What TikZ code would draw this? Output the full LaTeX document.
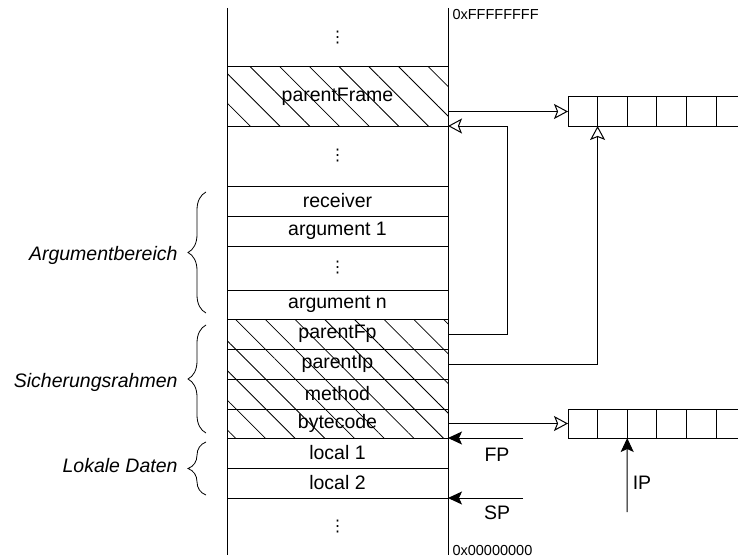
\documentclass[tikz,border=0pt]{standalone}
\usepackage{fontspec}
\setmainfont{Liberation Sans}
\newfontfamily\symfont{DejaVu Sans}
\usetikzlibrary{arrows.meta,positioning,patterns.meta,decorations.pathreplacing}
\tikzset{
  every picture/.style={line width=1pt},
  cell/.style={draw=black, minimum width=221pt, minimum height=#1, inner sep=0pt, outer sep=0pt, font=\fontsize{19.5}{23}\selectfont},
  cell/.default=30pt,
  gap/.style={cell=#1, draw=none, font=\fontsize{16}{18}\symfont},
  hatched/.style={cell=#1, pattern={Lines[angle=-45, distance=21pt, line width=0.8pt]}},
  bufcell/.style={draw=black, minimum width=29.6pt, minimum height=29pt, inner sep=0pt, outer sep=0pt},
  ptr/.style={-{Stealth[open, length=14pt, width=15pt, inset=3pt]}},
  reg/.style={-{Stealth[length=14pt, width=13pt, inset=3pt]}},
  lbl/.style={font=\fontsize{19.5}{23}\selectfont, inner sep=0pt},
  addr/.style={font=\fontsize{14.5}{17}\selectfont, inner sep=0pt, anchor=west},
  area/.style={inner sep=0pt, anchor=east, font=\fontsize{19.5}{23}\selectfont\itshape},
  curly/.style={decorate, decoration={brace, amplitude=18pt}, line width=0.8pt},
}

\begin{document}
\begin{tikzpicture}[x=1pt, y=-1pt]
  \path[use as bounding box, clip] (0,0) rectangle (738,559);
  % stack frame rows
  \foreach \name/\y/\h in {dtop/37.5/59, dmid/156/60, dargs/268/44, dbot/526.5/57}
    \node[gap=\h pt] (\name) at (337.5,\y) {⋮};
  \foreach \name/\y/\h/\label in {pframe/96.5/59/parentFrame, pfp/334/30/parentFp, pip/364/30/parentIp, meth/394/30/method, bcode/423.5/29/bytecode}
    \node[hatched=\h pt] (\name) at (337.5,\y) {\label};
  \foreach \name/\y/\h/\label in {recv/201/30/receiver, arg1/231/30/argument 1, argn/304.5/29/argument n, loc1/453/30/local 1, loc2/483/30/local 2}
    \node[cell=\h pt] (\name) at (337.5,\y) {\label};
  \draw (dtop.north west) -- (dbot.south west);
  \draw (dtop.north east) -- (dbot.south east);
  \node[addr] (hiaddr) at (452,15) {0xFFFFFFFF};
  \node[addr] (loaddr) at (452,551) {0x00000000};

  % bytecode buffers
  \foreach \i in {1,...,7} {
    \node[bufcell] (b1c\i) at ({568+29.6*(\i-0.5)},111.5) {};
    \node[bufcell] (b2c\i) at ({568+29.6*(\i-0.5)},423.5) {};
  }

  % pointers
  \draw[ptr] (b1c1.west -| pframe.east) -- (b1c1.west);
  \draw[ptr] (pfp.east) -- ++(59,0) |- (pframe.south east);
  \draw[ptr] (pip.east) -| (b1c2.south west);
  \draw[ptr] (bcode.east) -- (b2c1.west);

  % registers
  \coordinate (fpfrom) at (523,438);
  \coordinate (spfrom) at (523,498);
  \coordinate (ipfrom) at (627.2,512);
  \draw[reg] (fpfrom) -- (loc1.north east);
  \draw[reg] (spfrom) -- (loc2.south east);
  \draw[reg] (ipfrom) -- (b2c3.south west);
  \node[lbl] (fp) at (497,455) {FP};
  \node[lbl] (sp) at (497,513) {SP};
  \node[lbl] (ip) at (642,483) {IP};

  % areas
  \draw[curly] (206,313) -- (206,192);
  \draw[curly] (206,433) -- (206,325);
  \draw[curly] (206,495) -- (206,442);
  \node[area] (argarea) at (178,255) {Argumentbereich};
  \node[area] (savearea) at (178,382) {Sicherungsrahmen};
  \node[area] (localarea) at (178,466) {Lokale Daten};
\end{tikzpicture}
\end{document}
